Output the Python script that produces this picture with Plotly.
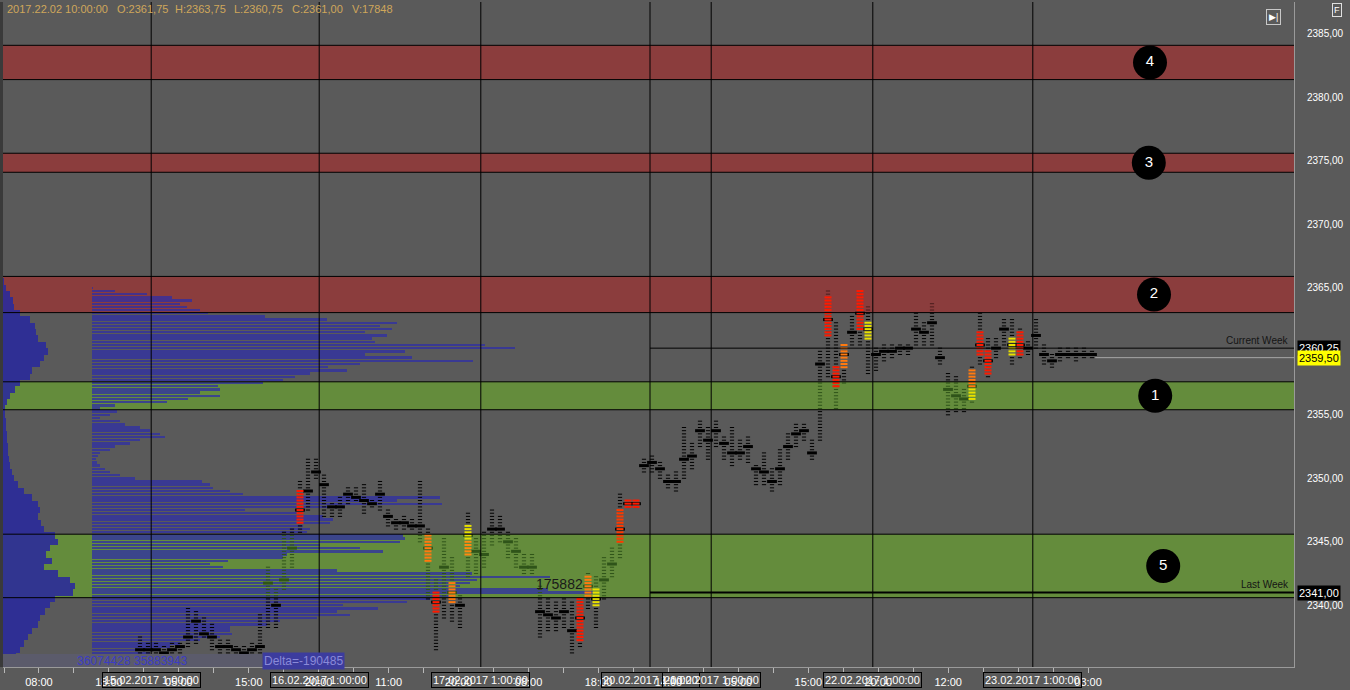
import numpy as np
import plotly.graph_objects as go

# ---------------- data ----------------
header_items = ["2017.22.02 10:00:00", "O:2361,75", "H:2363,75", "L:2360,75", "C:2361,00", "V:17848"]

# price bars (one per bar index): low / high / point of control
bar_low = [2336.0, 2336.25, 2336.0, 2336.0, 2336.25, 2336.25, 2336.75, 2337.0, 2337.5, 2336.5,
           2336.25, 2336.25, 2336.0, 2336.0, 2336.0, 2336.25, 2338.25, 2338.25, 2341.25, 2343.0,
           2345.75, 2347.5, 2350.0, 2347.0, 2347.0, 2347.0, 2348.0, 2348.25, 2347.25, 2347.75,
           2347.5, 2346.25, 2346.0, 2346.0, 2346.0, 2345.0, 2340.5, 2336.5, 2339.0, 2338.75,
           2338.25, 2342.25, 2342.5, 2343.0, 2344.75, 2345.0, 2343.75, 2343.0, 2342.5, 2342.5,
           2337.5, 2338.0, 2338.0, 2338.25, 2336.25, 2336.75, 2339.75, 2338.25, 2340.5, 2342.25,
           2343.75, 2347.75, 2347.75, 2350.5, 2350.5, 2350.0, 2349.25, 2349.0, 2350.0, 2350.75,
           2352.5, 2351.5, 2352.5, 2351.5, 2351.0, 2351.5, 2351.25, 2349.5, 2349.5, 2349.0,
           2349.5, 2351.5, 2352.5, 2353.0, 2351.5, 2353.0, 2358.0, 2355.5, 2357.5, 2360.5,
           2360.5, 2358.25, 2358.5, 2359.25, 2359.5, 2359.75, 2359.75, 2360.5, 2360.5, 2360.5,
           2359.0, 2355.0, 2355.25, 2355.25, 2356.0, 2359.0, 2358.0, 2359.5, 2360.5, 2359.0,
           2359.5, 2359.75, 2360.25, 2359.0, 2358.75, 2359.25, 2359.5, 2359.25, 2359.5, 2359.5]
bar_high = [2337.5, 2337.0, 2337.0, 2336.75, 2337.0, 2337.0, 2339.75, 2339.5, 2339.0, 2338.5,
            2337.25, 2337.25, 2336.75, 2336.75, 2337.0, 2339.25, 2343.0, 2341.25, 2345.75, 2346.0,
            2349.75, 2351.5, 2351.5, 2350.25, 2348.0, 2348.5, 2349.25, 2349.25, 2349.5, 2348.25,
            2349.75, 2347.5, 2346.75, 2347.0, 2346.75, 2349.75, 2346.0, 2342.0, 2345.25, 2343.75,
            2340.75, 2347.25, 2345.25, 2345.75, 2347.5, 2347.0, 2345.75, 2345.25, 2344.0, 2344.0,
            2341.5, 2340.5, 2340.25, 2340.5, 2340.25, 2340.5, 2342.5, 2342.25, 2343.75, 2344.5,
            2348.75, 2348.25, 2348.25, 2351.5, 2351.75, 2351.25, 2350.25, 2350.5, 2354.0, 2352.75,
            2354.5, 2354.0, 2354.5, 2353.25, 2354.0, 2353.0, 2353.25, 2351.0, 2352.0, 2350.75,
            2352.25, 2353.5, 2354.25, 2354.25, 2353.0, 2360.0, 2364.75, 2362.25, 2360.5, 2362.75,
            2364.75, 2363.5, 2360.25, 2360.5, 2360.5, 2360.5, 2360.5, 2363.0, 2362.25, 2363.75,
            2360.25, 2358.25, 2358.0, 2357.0, 2358.75, 2363.0, 2361.0, 2361.0, 2362.5, 2362.5,
            2361.75, 2360.75, 2362.5, 2360.5, 2359.75, 2360.25, 2360.25, 2360.25, 2360.25, 2360.0]
bar_poc = [2336.5, 2336.5, 2336.5, 2336.25, 2336.5, 2336.75, 2337.5, 2338.75, 2337.75, 2337.5,
           2336.75, 2336.75, 2336.5, 2336.25, 2336.5, 2336.75, 2341.75, 2340.0, 2342.0, 2344.5,
           2347.5, 2349.0, 2350.5, 2349.5, 2347.75, 2347.75, 2348.75, 2348.5, 2348.25, 2348.0,
           2348.75, 2347.0, 2346.5, 2346.5, 2346.25, 2346.25, 2344.5, 2340.25, 2343.0, 2341.0,
           2340.0, 2345.5, 2344.25, 2344.0, 2346.0, 2346.0, 2345.0, 2344.25, 2343.0, 2343.0,
           2339.5, 2339.25, 2339.0, 2339.5, 2338.0, 2339.0, 2341.5, 2340.5, 2342.0, 2343.25,
           2346.0, 2348.0, 2348.0, 2351.0, 2351.25, 2350.75, 2349.75, 2349.75, 2351.5, 2351.75,
           2353.75, 2353.0, 2353.75, 2352.75, 2352.0, 2352.0, 2352.5, 2350.75, 2350.5, 2349.75,
           2350.75, 2352.5, 2353.5, 2353.75, 2352.0, 2359.0, 2362.5, 2358.0, 2359.75, 2361.5,
           2363.0, 2361.75, 2359.75, 2360.0, 2360.0, 2360.25, 2360.25, 2361.75, 2361.5, 2362.25,
           2359.5, 2357.0, 2356.5, 2356.25, 2357.25, 2360.5, 2359.25, 2360.25, 2361.75, 2360.5,
           2360.5, 2360.25, 2361.25, 2359.75, 2359.25, 2359.75, 2359.75, 2359.75, 2359.75, 2359.75]

# coloured (high volume / delta) parts of bars: (bar index, low, high, colour)
highlights = [(20, 2346.5, 2349.0, "#ff1a00"), (36, 2343.5, 2345.5, "#ff7a10"),
              (37, 2339.5, 2341.0, "#ff1a00"), (39, 2340.25, 2341.75, "#ff7a10"),
              (41, 2345.25, 2346.25, "#e8e000"), (41, 2344.0, 2345.0, "#ff8a10"),
              (55, 2337.25, 2340.5, "#ff1a00"), (56, 2340.75, 2342.25, "#ff7a10"),
              (57, 2340.0, 2341.25, "#e8e000"), (60, 2345.0, 2347.5, "#ff3a00"),
              (61, 2347.75, 2348.25, "#ff1a00"), (62, 2347.75, 2348.25, "#ff1a00"),
              (86, 2361.25, 2364.25, "#ff1a00"), (87, 2357.25, 2358.75, "#ff1a00"),
              (88, 2358.75, 2360.5, "#ff7a10"), (90, 2361.75, 2364.75, "#ff1a00"),
              (91, 2361.0, 2362.25, "#e8e000"), (104, 2357.25, 2358.5, "#ff7a10"),
              (104, 2356.25, 2357.0, "#e8e000"), (105, 2359.75, 2361.5, "#ff1a00"),
              (106, 2358.25, 2360.0, "#ff1a00"), (109, 2359.75, 2361.0, "#e8e000"),
              (110, 2359.75, 2361.5, "#ff1a00")]

# session starts (bar-index units) and their date labels
session_pos = [1.4, 22.4, 42.6, 63.75, 71.4, 91.6, 111.6]
session_labels = ["15.02.2017 1:00:00", "16.02.2017 1:00:00", "17.02.2017 1:00:00",
                  "20.02.2017 1:00:00", "21.02.2017 1:00:00", "22.02.2017 1:00:00",
                  "23.02.2017 1:00:00"]
week_start_session = 3

# hour ticks along the time axis
hour_tick_labels = ["", "08:00", "", "18:00", "", "05:00", "", "15:00", "", "20:00", "", "11:00",
                    "", "20:00", "", "08:00", "", "18:00", "", "14:00", "", "05:00", "", "15:00",
                    "", "20:00", "", "12:00", "", "", "", "03:00"]

# price-axis ticks shown (2360,00 is hidden under the price boxes in the original)
price_ticks = [2340, 2345, 2350, 2355, 2365, 2370, 2375, 2380, 2385]

# last week's volume profile (price rows every 0.25 from the top)
prof_top = 2365.0
prof_vol = [350, 8070, 19310, 28080, 35100, 30890, 33350, 37910, 40720, 60720,
            82490, 107060, 101090, 105300, 95820, 103550, 98280, 99330, 137940, 148470,
            109860, 95820, 112320, 133730, 94070, 82840, 89510, 76520, 71250, 67040,
            60020, 44230, 44930, 37910, 44930, 33700, 26330, 8070, 2810, 8780,
            6320, 2810, 9830, 11580, 16850, 20360, 23870, 25620, 16850, 13340,
            8070, 6320, 2810, 2110, 1400, 1760, 2810, 4560, 6320, 9830,
            15090, 38610, 41420, 42470, 48440, 53000, 122150, 107060, 122850, 86000,
            53700, 71960, 81080, 84590, 83540, 74060, 76520, 75470, 109160, 109860,
            108110, 80030, 94070, 102140, 68440, 67040, 47740, 41420, 45980, 86000,
            133380, 160760, 135140, 132680, 129170, 160060, 175882, 125660, 118640, 110570,
            88100, 100390, 86000, 90560, 78980, 65990, 61430, 48440, 48440, 49140,
            44930, 37910, 30890, 27380, 23870, 20360, 9830]
# long-history profile at the left edge (rows every 0.5)
hist_top = 2365.5
hist_vol = [350, 1050, 2460, 3510, 3860, 5970, 9480, 11230, 11580, 12290,
            15090, 15800, 14390, 12990, 10180, 9480, 5970, 4210, 2460, 1400,
            700, 700, 1050, 1050, 1400, 1400, 1760, 1760, 2110, 2460,
            3160, 3860, 5270, 7370, 10180, 12290, 12990, 12290, 13340, 14390,
            18250, 19310, 16500, 15090, 17200, 14390, 19310, 23520, 25270, 24570,
            18250, 16500, 14740, 12990, 12290, 10180, 8780, 7370, 5970, 4560, 3860]

# support / resistance zones: (low, high, type, label, label position in bar units)
zones = [(2381.4, 2384.1, "res", "4", 126.25), (2374.1, 2375.6, "res", "3", 126.1),
         (2363.05, 2365.9, "res", "2", 126.75), (2355.4, 2357.6, "sup", "1", 126.9),
         (2340.6, 2345.6, "sup", "5", 127.9)]

current_week_level = 2360.25
last_week_level = 2341.00
last_price = 2359.50
profile_stats = "36074428 35883943"
delta_text = "Delta=-190485"

# ---------------- styling ----------------
BG = "#5a5a5a"
FONT = "Liberation Sans, Arial, sans-serif"
W, H = 1350, 690
ML, MR, MT, MB = 3, 56, 2, 20
PW, PH = W - ML - MR, H - MT - MB
Y0, Y1 = 2335.14, 2387.51
X0, X1 = -17.125, 144.25          # bar-index range
PX_PER_BAR = PW / (X1 - X0)
K = 175882 / 501.0                 # volume units per pixel of profile length
VX0 = -89 * K
VX1 = VX0 + PW * K

ZONE_FILL = {"res": "#8b3d3d", "sup": "#648c3c"}
IN_ZONE_BAR = {"res": "#4a1c1c", "sup": "#2f5419"}


def zone_of(p):
    for lo, hi, kind, _, _ in zones:
        if lo <= p <= hi:
            return kind
    return None


def bar_color(p):
    z = zone_of(p)
    return IN_ZONE_BAR[z] if z else "#000000"


def px_x(px):
    return (px - ML) / PW


def px_y(py):
    return (H - MB - py) / PH


fig = go.Figure()

# history profile
hist_prices = [hist_top - 0.5 * k for k in range(len(hist_vol))]
fig.add_trace(go.Bar(x=hist_vol, y=hist_prices, orientation="h", width=0.5,
                     marker=dict(color="#2a2a9c", line=dict(width=0)), opacity=0.88,
                     xaxis="x3", yaxis="y", hoverinfo="skip", showlegend=False))

# last week's profile
prof_prices = [prof_top - 0.25 * k for k in range(len(prof_vol))]
fig.add_trace(go.Bar(x=prof_vol, y=prof_prices, orientation="h", width=0.19,
                     marker=dict(color="#2e2ea6", line=dict(width=0)), opacity=0.75,
                     xaxis="x", yaxis="y", hoverinfo="skip", showlegend=False))

# price bars as stacked tick marks
dx, dy, dc = [], [], []
for i, (lo, hi) in enumerate(zip(bar_low, bar_high)):
    for p in np.arange(lo, hi + 1e-9, 0.25):
        dx.append(i)
        dy.append(p)
        dc.append(bar_color(p))
fig.add_trace(go.Scatter(x=dx, y=dy, mode="markers", xaxis="x2", yaxis="y",
                         marker=dict(symbol="line-ew", size=3, line=dict(width=1, color=dc)),
                         hoverinfo="skip", showlegend=False))
fig.add_trace(go.Scatter(x=list(range(len(bar_poc))), y=bar_poc, mode="markers",
                         xaxis="x2", yaxis="y",
                         marker=dict(symbol="line-ew", size=7,
                                     line=dict(width=3, color=[bar_color(p) for p in bar_poc])),
                         hoverinfo="skip", showlegend=False))
hx, hy, hc = [], [], []
for i, lo, hi, col in highlights:
    for p in np.arange(lo, hi + 1e-9, 0.25):
        hx.append(i)
        hy.append(p)
        hc.append(col)
fig.add_trace(go.Scatter(x=hx, y=hy, mode="markers", xaxis="x2", yaxis="y",
                         marker=dict(symbol="line-ew", size=5, line=dict(width=2, color=hc)),
                         hoverinfo="skip", showlegend=False))

# zone number badges
fig.add_trace(go.Scatter(x=[z[4] for z in zones], y=[(z[0] + z[1]) / 2 for z in zones],
                         mode="markers+text", text=[z[3] for z in zones],
                         textfont=dict(color="white", size=15, family=FONT),
                         textposition="middle center", xaxis="x2", yaxis="y",
                         marker=dict(size=34, color="black"), hoverinfo="skip", showlegend=False))

shapes = []
for lo, hi, kind, _, _ in zones:
    shapes.append(dict(type="rect", xref="paper", yref="y", x0=0, x1=1, y0=lo, y1=hi,
                       fillcolor=ZONE_FILL[kind], line=dict(width=0), layer="below"))
    for yy in (lo, hi):
        shapes.append(dict(type="line", xref="paper", yref="y", x0=0, x1=1, y0=yy, y1=yy,
                           line=dict(color="black", width=1), layer="above"))
for sp in session_pos:
    shapes.append(dict(type="line", xref="x2", yref="paper", x0=sp, x1=sp, y0=0, y1=1,
                       line=dict(color="black", width=1), layer="above"))
ws = session_pos[week_start_session]
shapes.append(dict(type="line", xref="x2", yref="y", x0=ws, x1=X1, y0=current_week_level,
                   y1=current_week_level, line=dict(color="black", width=1), layer="above"))
shapes.append(dict(type="line", xref="x2", yref="y", x0=ws, x1=X1, y0=last_week_level,
                   y1=last_week_level, line=dict(color="black", width=2), layer="above"))
shapes.append(dict(type="line", xref="x2", yref="y", x0=len(bar_low) - 0.6, x1=X1,
                   y0=last_price, y1=last_price, line=dict(color="#a8a8a8", width=1),
                   layer="above"))
# left dark edge
shapes.append(dict(type="rect", xref="paper", yref="paper", x0=px_x(0), x1=px_x(3), y0=0, y1=1,
                   fillcolor="#3a3a3a", line=dict(width=0), layer="above"))
# profile statistics strip at the bottom left
shapes.append(dict(type="rect", xref="paper", yref="paper", x0=px_x(3), x1=px_x(262),
                   y0=px_y(670), y1=px_y(657), fillcolor="#5b5b6b", line=dict(width=0),
                   layer="above"))

ann = []
head_px = [5, 115, 173, 232, 290, 350]
for t, xp in zip(header_items, head_px):
    ann.append(dict(text=t, xref="paper", yref="paper", x=px_x(xp), y=px_y(9), xanchor="left",
                    yanchor="middle", showarrow=False, font=dict(color="#cfa75a", size=11, family=FONT)))
for sp, lab in zip(session_pos, session_labels):
    ann.append(dict(text=lab, xref="x2", yref="paper", x=sp, y=px_y(683), xanchor="center",
                    yanchor="middle", showarrow=False, bordercolor="black", borderwidth=1,
                    borderpad=1, font=dict(color="white", size=11, family=FONT)))
ann.append(dict(text="Current Week", xref="paper", yref="y", x=1, xshift=-3, y=current_week_level,
                yanchor="bottom", xanchor="right", showarrow=False, yshift=0,
                font=dict(color="#151515", size=10, family=FONT)))
ann.append(dict(text="Last Week", xref="paper", yref="y", x=1, xshift=-3, y=last_week_level,
                yanchor="bottom", xanchor="right", showarrow=False, yshift=1,
                font=dict(color="#151515", size=10, family=FONT)))
for lvl, bg, fg in [(current_week_level, "black", "white"), (last_price, "#ffff00", "black"),
                    (last_week_level, "black", "white")]:
    ann.append(dict(text=f"{lvl:.2f}".replace(".", ","), xref="paper", yref="y", x=1, xshift=3,
                    y=lvl, xanchor="left", yanchor="middle", showarrow=False, bgcolor=bg,
                    borderpad=1, font=dict(color=fg, size=11, family=FONT)))
poc_i = int(np.argmax(prof_vol))
ann.append(dict(text=str(prof_vol[poc_i]), xref="x", yref="y", x=prof_vol[poc_i],
                y=prof_prices[poc_i], xanchor="right", yanchor="middle", xshift=-8, yshift=9,
                showarrow=False, font=dict(color="#1a1a1a", size=14, family=FONT)))
ann.append(dict(text=profile_stats, xref="paper", yref="paper", x=px_x(75), y=px_y(664),
                xanchor="left", yanchor="middle", showarrow=False,
                font=dict(color="#3c3cc4", size=12, family=FONT)))
ann.append(dict(text=delta_text, xref="paper", yref="paper", x=px_x(262), y=px_y(664),
                xanchor="left", yanchor="middle", showarrow=False, bgcolor="#3c3c9e",
                borderpad=1, font=dict(color="#8a8ad8", size=12, family=FONT)))
ann.append(dict(text="▶|", xref="paper", yref="paper", x=px_x(1273), y=px_y(17),
                xanchor="center", yanchor="middle", showarrow=False, bordercolor="#c8c8c8",
                borderwidth=1, borderpad=2, font=dict(color="white", size=9, family=FONT)))
ann.append(dict(text="F", xref="paper", yref="paper", x=px_x(1337), y=px_y(10),
                xanchor="center", yanchor="middle", showarrow=False, bordercolor="#e0e0e0",
                borderwidth=1, borderpad=1, font=dict(color="white", size=9, family=FONT)))

tick_step = 34.97 / PX_PER_BAR
tick_first = X0 + (4 - ML) / PX_PER_BAR
tickvals = [tick_first + k * tick_step for k in range(len(hour_tick_labels))]

fig.update_layout(
    width=W, height=H, autosize=False,
    margin=dict(l=ML, r=MR, t=MT, b=MB),
    paper_bgcolor=BG, plot_bgcolor=BG,
    separators=",.",
    barmode="overlay", bargap=0,
    showlegend=False,
    shapes=shapes, annotations=ann,
    xaxis=dict(range=[VX0, VX1], visible=False, fixedrange=True),
    xaxis3=dict(range=[0, PW * K], overlaying="x", visible=False),
    xaxis2=dict(range=[X0, X1], overlaying="x", anchor="y", side="bottom", showgrid=False,
                zeroline=False, tickvals=tickvals, ticktext=hour_tick_labels, ticks="outside",
                ticklen=5, tickcolor="#b8b8b8", showline=True, linecolor="#9a9a9a",
                tickfont=dict(color="white", size=11, family=FONT)),
    yaxis=dict(range=[Y0, Y1], side="right", showgrid=False, zeroline=False,
               tickvals=price_ticks, tickformat=".2f", showline=True,
               linecolor="#9a9a9a", ticks="", ticklabelstandoff=10,
               tickfont=dict(color="white", size=10, family=FONT)),
)

fig.write_html("out.html", config={"displayModeBar": False},
               post_script="document.body.style.margin='0';document.body.style.overflow='hidden';")
